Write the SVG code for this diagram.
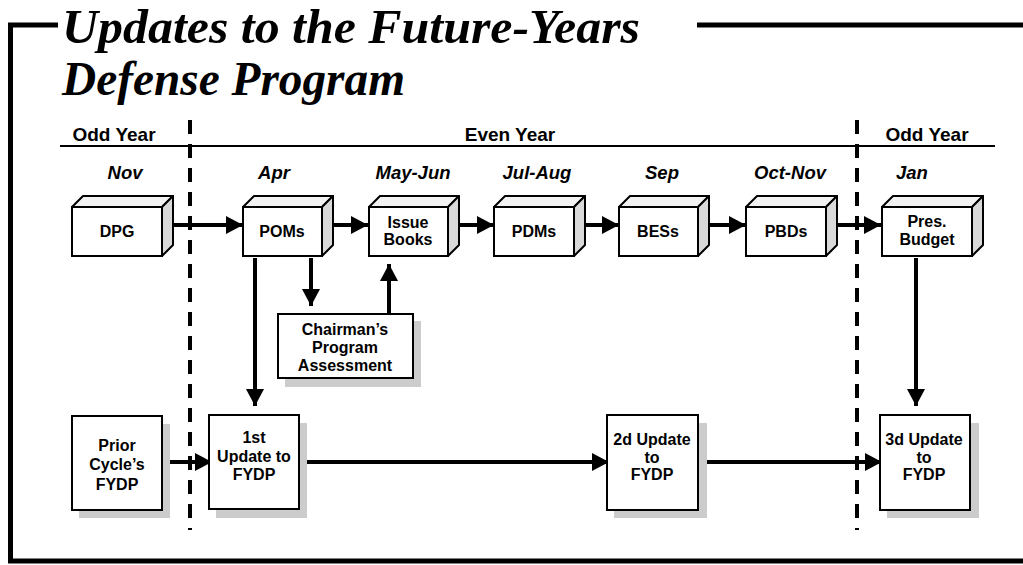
<svg xmlns="http://www.w3.org/2000/svg" width="1023" height="565" viewBox="0 0 1023 565">
<defs>
<style>
.frame{fill:none;stroke:#000;stroke-width:5}
.title{font-family:"Liberation Serif",serif;font-weight:bold;font-style:italic;font-size:48px;fill:#000}
.hdr{font-family:"Liberation Sans",Arial,sans-serif;font-weight:bold;font-size:19px;fill:#000;text-anchor:middle}
.mon{font-family:"Liberation Sans",Arial,sans-serif;font-weight:bold;font-style:italic;font-size:18.5px;fill:#000;text-anchor:middle}
.lbl{font-family:"Liberation Sans",Arial,sans-serif;font-weight:bold;font-size:16px;fill:#000;text-anchor:middle}
.front{fill:#fff;stroke:#000;stroke-width:2}
.top{fill:#f2f2f2;stroke:#000;stroke-width:2;stroke-linejoin:round}
.side{fill:#d9d9d9;stroke:#000;stroke-width:2;stroke-linejoin:round}
.shadow{fill:#cccccc}
.conn{stroke:#000;stroke-width:4;fill:none}
.dash{stroke:#000;stroke-width:4;stroke-dasharray:14 10;fill:none}
</style>
<marker id="ah" markerUnits="userSpaceOnUse" markerWidth="18" markerHeight="18" refX="17" refY="9" orient="auto">
<path d="M0,0 L17,9 L0,18 z" fill="#000"/>
</marker>
</defs>
<rect width="1023" height="565" fill="#fff"/>

<g id="frame">
<path class="frame" d="M58,25 H10.5 V561 H1023"/>
<path class="frame" d="M697,25 H1023"/>
</g>
<g id="title">
<text class="title" x="62" y="43" textLength="578" lengthAdjust="spacingAndGlyphs">Updates to the Future-Years</text>
<text class="title" x="62" y="95" textLength="343" lengthAdjust="spacingAndGlyphs">Defense Program</text>
</g>

<g id="timeline">
<text class="hdr" x="114" y="141">Odd Year</text>
<text class="hdr" x="510" y="141">Even Year</text>
<text class="hdr" x="927" y="141">Odd Year</text>
<line x1="60" y1="146" x2="995" y2="146" stroke="#000" stroke-width="2"/>
<text class="mon" x="125" y="179">Nov</text>
<text class="mon" x="274" y="179">Apr</text>
<text class="mon" x="413" y="179">May-Jun</text>
<text class="mon" x="537" y="179">Jul-Aug</text>
<text class="mon" x="662" y="179">Sep</text>
<text class="mon" x="790" y="179">Oct-Nov</text>
<text class="mon" x="912" y="179">Jan</text>
<line class="dash" x1="190" y1="120" x2="190" y2="530"/>
<line class="dash" x1="857" y1="120" x2="857" y2="530"/>
</g>

<g id="connectors">
<line class="conn" x1="170" y1="225" x2="243" y2="225" marker-end="url(#ah)"/>
<line class="conn" x1="333" y1="225" x2="368" y2="225" marker-end="url(#ah)"/>
<line class="conn" x1="458" y1="225" x2="494" y2="225" marker-end="url(#ah)"/>
<line class="conn" x1="584" y1="225" x2="619" y2="225" marker-end="url(#ah)"/>
<line class="conn" x1="707" y1="225" x2="746" y2="225" marker-end="url(#ah)"/>
<line class="conn" x1="835" y1="225" x2="881" y2="225" marker-end="url(#ah)"/>
<line class="conn" x1="255" y1="258" x2="255" y2="406" marker-end="url(#ah)"/>
<line class="conn" x1="311" y1="258" x2="311" y2="306" marker-end="url(#ah)"/>
<line class="conn" x1="389" y1="313" x2="389" y2="264" marker-end="url(#ah)"/>
<line class="conn" x1="916" y1="258" x2="916" y2="406" marker-end="url(#ah)"/>
<line class="conn" x1="170" y1="462" x2="212" y2="462" marker-end="url(#ah)"/>
<line class="conn" x1="307" y1="462" x2="609" y2="462" marker-end="url(#ah)"/>
<line class="conn" x1="705" y1="462" x2="882" y2="462" marker-end="url(#ah)"/>
</g>

<g id="dpg">
<path class="top" d="M72,207 L83,196 L173,196 L162,207 z"/>
<path class="side" d="M162,207 L173,196 L173,245 L162,256 z"/>
<rect class="front" x="72" y="207" width="90" height="49"/>
<text class="lbl" x="117" y="237">DPG</text>
</g>
<g id="poms">
<path class="top" d="M243,207 L254,196 L333,196 L322,207 z"/>
<path class="side" d="M322,207 L333,196 L333,245 L322,256 z"/>
<rect class="front" x="243" y="207" width="79" height="49"/>
<text class="lbl" x="282" y="237">POMs</text>
</g>
<g id="issue-books">
<path class="top" d="M369,207 L380,196 L459,196 L448,207 z"/>
<path class="side" d="M448,207 L459,196 L459,245 L448,256 z"/>
<rect class="front" x="369" y="207" width="79" height="49"/>
<text class="lbl" x="408" y="228">Issue</text>
<text class="lbl" x="408" y="245">Books</text>
</g>
<g id="pdms">
<path class="top" d="M494,207 L505,196 L585,196 L574,207 z"/>
<path class="side" d="M574,207 L585,196 L585,245 L574,256 z"/>
<rect class="front" x="494" y="207" width="80" height="49"/>
<text class="lbl" x="534" y="237">PDMs</text>
</g>
<g id="bess">
<path class="top" d="M619,207 L630,196 L709,196 L698,207 z"/>
<path class="side" d="M698,207 L709,196 L709,245 L698,256 z"/>
<rect class="front" x="619" y="207" width="79" height="49"/>
<text class="lbl" x="658" y="237">BESs</text>
</g>
<g id="pbds">
<path class="top" d="M746,207 L757,196 L837,196 L826,207 z"/>
<path class="side" d="M826,207 L837,196 L837,245 L826,256 z"/>
<rect class="front" x="746" y="207" width="80" height="49"/>
<text class="lbl" x="786" y="237">PBDs</text>
</g>
<g id="pres-budget">
<path class="top" d="M882,207 L893,196 L983,196 L972,207 z"/>
<path class="side" d="M972,207 L983,196 L983,245 L972,256 z"/>
<rect class="front" x="882" y="207" width="90" height="49"/>
<text class="lbl" x="927" y="227">Pres.</text>
<text class="lbl" x="927" y="245">Budget</text>
</g>

<g id="chairman">
<rect class="shadow" x="285" y="321" width="136" height="66"/>
<rect class="front" x="278" y="314" width="135" height="64"/>
<text class="lbl" x="345" y="335">Chairman’s</text>
<text class="lbl" x="345" y="353">Program</text>
<text class="lbl" x="345" y="371">Assessment</text>
</g>
<g id="prior-fydp">
<rect class="shadow" x="79" y="424" width="91" height="94"/>
<rect class="front" x="72" y="416" width="90" height="94"/>
<text class="lbl" x="117" y="451">Prior</text>
<text class="lbl" x="117" y="470">Cycle’s</text>
<text class="lbl" x="117" y="490">FYDP</text>
</g>
<g id="update1">
<rect class="shadow" x="216" y="423" width="91" height="95"/>
<rect class="front" x="209" y="415" width="90" height="94"/>
<text class="lbl" x="254" y="443">1st</text>
<text class="lbl" x="254" y="462">Update to</text>
<text class="lbl" x="254" y="480">FYDP</text>
</g>
<g id="update2">
<rect class="shadow" x="614" y="423" width="93" height="95"/>
<rect class="front" x="607" y="415" width="91" height="95"/>
<text class="lbl" x="652" y="445">2d Update</text>
<text class="lbl" x="652" y="463">to</text>
<text class="lbl" x="652" y="480">FYDP</text>
</g>
<g id="update3">
<rect class="shadow" x="887" y="423" width="92" height="95"/>
<rect class="front" x="880" y="415" width="90" height="95"/>
<text class="lbl" x="924" y="445">3d Update</text>
<text class="lbl" x="924" y="463">to</text>
<text class="lbl" x="924" y="480">FYDP</text>
</g>
</svg>
